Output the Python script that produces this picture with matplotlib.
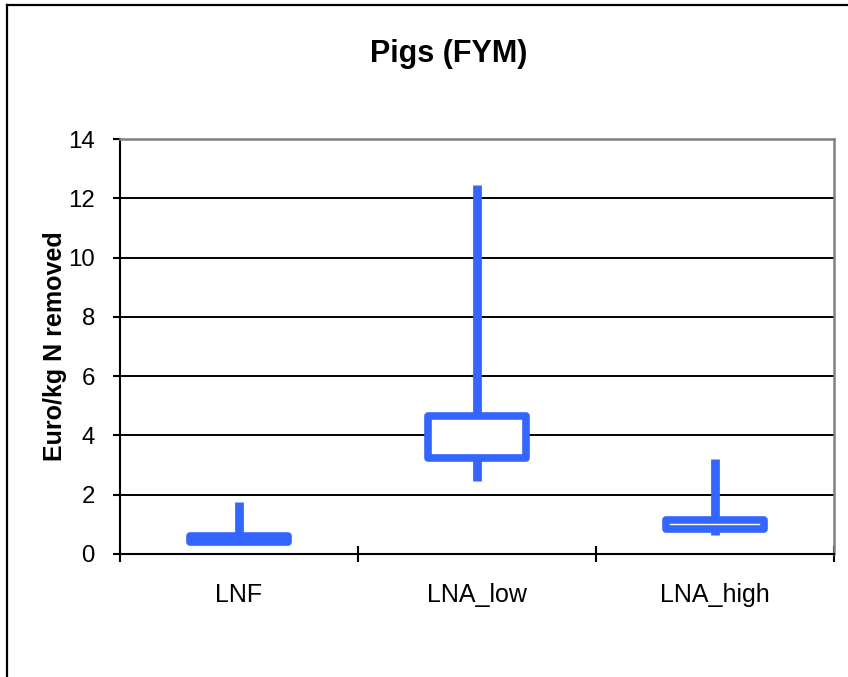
import matplotlib.pyplot as plt
import numpy as np
from matplotlib.patches import Rectangle
from matplotlib.lines import Line2D

plt.rcParams['font.family'] = ['Liberation Sans', 'DejaVu Sans']

# data (stock-chart style: low/high whisker, box between open/close)
categories = ['LNF', 'LNA_low', 'LNA_high']
low = [0.40, 2.45, 0.63]
high = [1.77, 12.45, 3.21]
box_bottom = [0.40, 3.24, 0.83]
box_top = [0.61, 4.67, 1.16]

blue = '#3366FF'

fig = plt.figure(figsize=(8.48, 6.77), dpi=100)
ax = fig.add_axes([120/848, 1-554/677, (834-120)/848, (554-139)/677])

x = np.arange(len(categories)) + 0.5
box_w = 0.41

# whiskers
ax.vlines(x, low, high, color=blue, linewidth=6.3, zorder=3, capstyle='butt')

# boxes
for xi, b, t in zip(x, box_bottom, box_top):
    r = Rectangle((xi - box_w/2, b), box_w, t - b, facecolor='white',
                  edgecolor=blue, linewidth=5.5, joinstyle='round', zorder=4)
    ax.add_patch(r)

ax.set_xlim(0, 3)
ax.set_ylim(0, 14)
ax.set_yticks(np.arange(0, 15, 2))
ax.yaxis.grid(True, color='black', linewidth=1.4)
ax.set_axisbelow(True)

ax.set_xticks([0, 1, 2, 3])
ax.set_xticklabels([])
ax.set_xticks(x, minor=True)
ax.set_xticklabels(categories, minor=True)
ax.tick_params(axis='x', which='major', direction='inout', length=11, width=1.5)
ax.tick_params(axis='x', which='minor', length=0, pad=21, labelsize=18)
ax.tick_params(axis='y', direction='out', length=5, width=1.5, pad=13, labelsize=17.3)

for s in ['left', 'bottom']:
    ax.spines[s].set_color('black')
    ax.spines[s].set_linewidth(1.5)
for s in ['right', 'top']:
    ax.spines[s].set_color('#808080')
    ax.spines[s].set_linewidth(1.8)

ax.set_ylabel('Euro/kg N removed', fontsize=18, fontweight='bold')
ax.yaxis.set_label_coords(-0.074, 0.5)

fig.text(449/848, 1-54/677, 'Pigs (FYM)', fontsize=22, fontweight='bold',
         ha='center', va='center')

# outer chart border (only left/top visible in the crop)
fig.add_artist(Line2D([6.5/848, 6.5/848], [0, 1-4.5/677], color='black', linewidth=1.6))
fig.add_artist(Line2D([6.5/848, 1], [1-4.5/677, 1-4.5/677], color='black', linewidth=1.6))

fig.savefig('out.png', dpi=100)
